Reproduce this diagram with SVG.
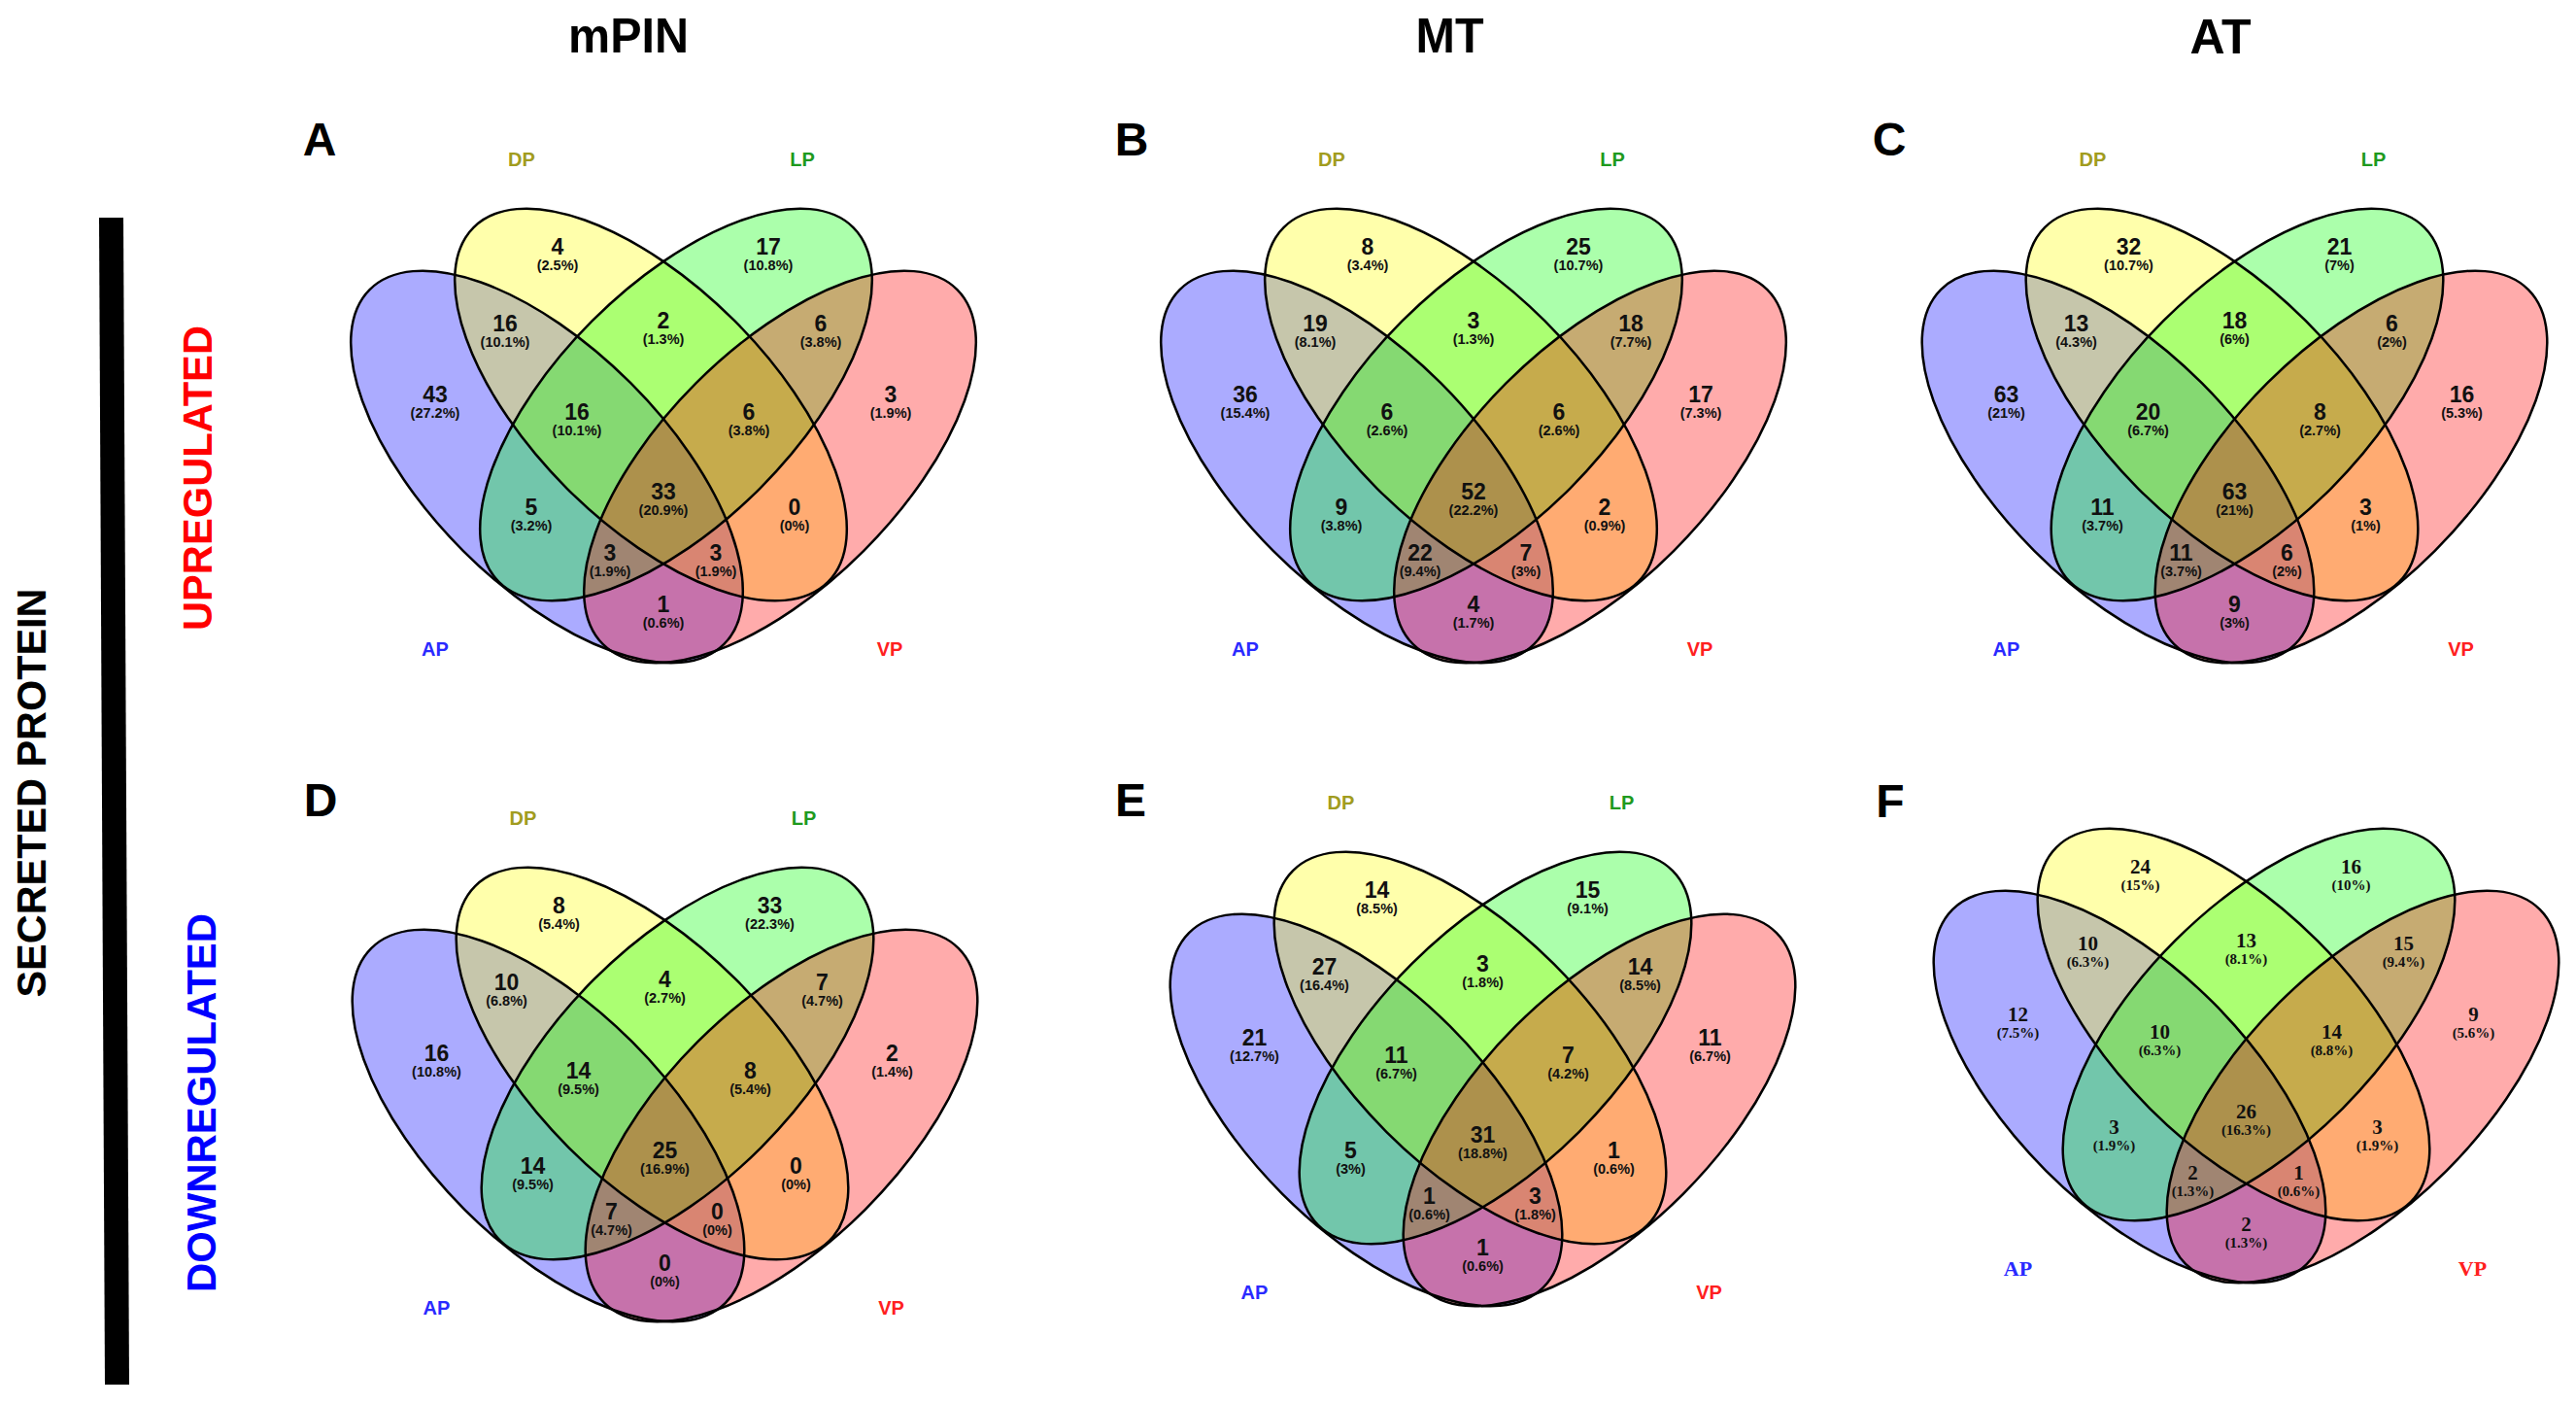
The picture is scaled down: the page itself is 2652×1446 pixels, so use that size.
<svg xmlns="http://www.w3.org/2000/svg" xmlns:xlink="http://www.w3.org/1999/xlink" width="2652" height="1446" viewBox="0 0 2652 1446">
<style>
.fa{fill:#0000ff;fill-opacity:.33}
.fd{fill:#ffff00;fill-opacity:.33}
.fl{fill:#00ff00;fill-opacity:.33}
.fv{fill:#ff0000;fill-opacity:.33}
.ol{fill:none;stroke:#000;stroke-width:2.5}
text{font-family:"Liberation Sans",Arial,sans-serif;font-weight:bold}
.n{font-size:23px;text-anchor:middle;fill:#111}
.p{font-size:14.5px}
.s .n{font-family:"Liberation Serif","Times New Roman",serif;font-size:21px}
.s .p{font-size:15px}
.c{font-size:20px;text-anchor:middle}
.s .c{font-family:"Liberation Serif","Times New Roman",serif;font-size:22px}
.dp{fill:#a19c1e}.lp{fill:#1e9a1e}.ap{fill:#2a2aff}.vp{fill:#ff2020}
.t{font-size:50px;text-anchor:middle;fill:#000}
.L{font-size:48px;text-anchor:middle;fill:#000}
.side{font-size:42px;text-anchor:middle}
</style>
<defs>
<ellipse id="eAP" cx="-120" cy="480.5" rx="258" ry="122" transform="rotate(45 -120 480.5)"/>
<ellipse id="eDP" cx="-13" cy="416.5" rx="258" ry="122" transform="rotate(45 -13 416.5)"/>
<ellipse id="eLP" cx="13" cy="416.5" rx="258" ry="122" transform="rotate(-45 13 416.5)"/>
<ellipse id="eVP" cx="120" cy="480.5" rx="258" ry="122" transform="rotate(-45 120 480.5)"/>
<g id="venn">
<use href="#eAP" class="fa"/><use href="#eDP" class="fd"/><use href="#eLP" class="fl"/><use href="#eVP" class="fv"/>
<use href="#eAP" class="ol"/><use href="#eDP" class="ol"/><use href="#eLP" class="ol"/><use href="#eVP" class="ol"/>
</g>
</defs>
<rect width="2652" height="1446" fill="#fff"/>

<g id="titles">
<text class="t" x="647" y="53.5" textLength="124" lengthAdjust="spacingAndGlyphs">mPIN</text>
<text class="t" x="1492.5" y="53.5" textLength="70" lengthAdjust="spacingAndGlyphs">MT</text>
<text class="t" x="2286" y="55" textLength="63" lengthAdjust="spacingAndGlyphs">AT</text>
</g>

<g id="side">
<polygon points="102,224 127,224 133,1425 108,1425" fill="#000"/>
<text class="side" transform="translate(47,816) rotate(-90)" textLength="421" lengthAdjust="spacingAndGlyphs">SECRETED PROTEIN</text>
<text class="side" transform="translate(218,492) rotate(-90)" fill="#ff0000" textLength="314" lengthAdjust="spacingAndGlyphs">UPREGULATED</text>
<text class="side" transform="translate(222,1135) rotate(-90)" fill="#0000ff" textLength="390" lengthAdjust="spacingAndGlyphs">DOWNREGULATED</text>
</g>

<g id="letters">
<text class="L" x="329" y="160">A</text>
<text class="L" x="1165" y="160">B</text>
<text class="L" x="1945" y="160">C</text>
<text class="L" x="330" y="840">D</text>
<text class="L" x="1164" y="840">E</text>
<text class="L" x="1946" y="841">F</text>
</g>

<g id="panel-A" transform="translate(683,0)">
<use href="#venn"/>
<text class="c dp" x="-146" y="171">DP</text><text class="c lp" x="143" y="171">LP</text>
<text class="c ap" x="-235" y="675">AP</text><text class="c vp" x="233" y="675">VP</text>
<text class="n" x="-109" y="262">4<tspan class="p" x="-109" dy="15.5">(2.5%)</tspan></text>
<text class="n" x="108" y="262">17<tspan class="p" x="108" dy="15.5">(10.8%)</tspan></text>
<text class="n" x="-163" y="341">16<tspan class="p" x="-163" dy="15.5">(10.1%)</tspan></text>
<text class="n" x="0" y="338">2<tspan class="p" x="0" dy="15.5">(1.3%)</tspan></text>
<text class="n" x="162" y="341">6<tspan class="p" x="162" dy="15.5">(3.8%)</tspan></text>
<text class="n" x="-235" y="414">43<tspan class="p" x="-235" dy="15.5">(27.2%)</tspan></text>
<text class="n" x="-89" y="432">16<tspan class="p" x="-89" dy="15.5">(10.1%)</tspan></text>
<text class="n" x="88" y="432">6<tspan class="p" x="88" dy="15.5">(3.8%)</tspan></text>
<text class="n" x="234" y="414">3<tspan class="p" x="234" dy="15.5">(1.9%)</tspan></text>
<text class="n" x="-136" y="530">5<tspan class="p" x="-136" dy="15.5">(3.2%)</tspan></text>
<text class="n" x="0" y="514">33<tspan class="p" x="0" dy="15.5">(20.9%)</tspan></text>
<text class="n" x="135" y="530">0<tspan class="p" x="135" dy="15.5">(0%)</tspan></text>
<text class="n" x="-55" y="577">3<tspan class="p" x="-55" dy="15.5">(1.9%)</tspan></text>
<text class="n" x="54" y="577">3<tspan class="p" x="54" dy="15.5">(1.9%)</tspan></text>
<text class="n" x="0" y="630">1<tspan class="p" x="0" dy="15.5">(0.6%)</tspan></text>
</g>

<g id="panel-B" transform="translate(1517,0)">
<use href="#venn"/>
<text class="c dp" x="-146" y="171">DP</text><text class="c lp" x="143" y="171">LP</text>
<text class="c ap" x="-235" y="675">AP</text><text class="c vp" x="233" y="675">VP</text>
<text class="n" x="-109" y="262">8<tspan class="p" x="-109" dy="15.5">(3.4%)</tspan></text>
<text class="n" x="108" y="262">25<tspan class="p" x="108" dy="15.5">(10.7%)</tspan></text>
<text class="n" x="-163" y="341">19<tspan class="p" x="-163" dy="15.5">(8.1%)</tspan></text>
<text class="n" x="0" y="338">3<tspan class="p" x="0" dy="15.5">(1.3%)</tspan></text>
<text class="n" x="162" y="341">18<tspan class="p" x="162" dy="15.5">(7.7%)</tspan></text>
<text class="n" x="-235" y="414">36<tspan class="p" x="-235" dy="15.5">(15.4%)</tspan></text>
<text class="n" x="-89" y="432">6<tspan class="p" x="-89" dy="15.5">(2.6%)</tspan></text>
<text class="n" x="88" y="432">6<tspan class="p" x="88" dy="15.5">(2.6%)</tspan></text>
<text class="n" x="234" y="414">17<tspan class="p" x="234" dy="15.5">(7.3%)</tspan></text>
<text class="n" x="-136" y="530">9<tspan class="p" x="-136" dy="15.5">(3.8%)</tspan></text>
<text class="n" x="0" y="514">52<tspan class="p" x="0" dy="15.5">(22.2%)</tspan></text>
<text class="n" x="135" y="530">2<tspan class="p" x="135" dy="15.5">(0.9%)</tspan></text>
<text class="n" x="-55" y="577">22<tspan class="p" x="-55" dy="15.5">(9.4%)</tspan></text>
<text class="n" x="54" y="577">7<tspan class="p" x="54" dy="15.5">(3%)</tspan></text>
<text class="n" x="0" y="630">4<tspan class="p" x="0" dy="15.5">(1.7%)</tspan></text>
</g>

<g id="panel-C" transform="translate(2300.5,0)">
<use href="#venn"/>
<text class="c dp" x="-146" y="171">DP</text><text class="c lp" x="143" y="171">LP</text>
<text class="c ap" x="-235" y="675">AP</text><text class="c vp" x="233" y="675">VP</text>
<text class="n" x="-109" y="262">32<tspan class="p" x="-109" dy="15.5">(10.7%)</tspan></text>
<text class="n" x="108" y="262">21<tspan class="p" x="108" dy="15.5">(7%)</tspan></text>
<text class="n" x="-163" y="341">13<tspan class="p" x="-163" dy="15.5">(4.3%)</tspan></text>
<text class="n" x="0" y="338">18<tspan class="p" x="0" dy="15.5">(6%)</tspan></text>
<text class="n" x="162" y="341">6<tspan class="p" x="162" dy="15.5">(2%)</tspan></text>
<text class="n" x="-235" y="414">63<tspan class="p" x="-235" dy="15.5">(21%)</tspan></text>
<text class="n" x="-89" y="432">20<tspan class="p" x="-89" dy="15.5">(6.7%)</tspan></text>
<text class="n" x="88" y="432">8<tspan class="p" x="88" dy="15.5">(2.7%)</tspan></text>
<text class="n" x="234" y="414">16<tspan class="p" x="234" dy="15.5">(5.3%)</tspan></text>
<text class="n" x="-136" y="530">11<tspan class="p" x="-136" dy="15.5">(3.7%)</tspan></text>
<text class="n" x="0" y="514">63<tspan class="p" x="0" dy="15.5">(21%)</tspan></text>
<text class="n" x="135" y="530">3<tspan class="p" x="135" dy="15.5">(1%)</tspan></text>
<text class="n" x="-55" y="577">11<tspan class="p" x="-55" dy="15.5">(3.7%)</tspan></text>
<text class="n" x="54" y="577">6<tspan class="p" x="54" dy="15.5">(2%)</tspan></text>
<text class="n" x="0" y="630">9<tspan class="p" x="0" dy="15.5">(3%)</tspan></text>
</g>

<g id="panel-D" transform="translate(684.5,678)">
<use href="#venn"/>
<text class="c dp" x="-146" y="171">DP</text><text class="c lp" x="143" y="171">LP</text>
<text class="c ap" x="-235" y="675">AP</text><text class="c vp" x="233" y="675">VP</text>
<text class="n" x="-109" y="262">8<tspan class="p" x="-109" dy="15.5">(5.4%)</tspan></text>
<text class="n" x="108" y="262">33<tspan class="p" x="108" dy="15.5">(22.3%)</tspan></text>
<text class="n" x="-163" y="341">10<tspan class="p" x="-163" dy="15.5">(6.8%)</tspan></text>
<text class="n" x="0" y="338">4<tspan class="p" x="0" dy="15.5">(2.7%)</tspan></text>
<text class="n" x="162" y="341">7<tspan class="p" x="162" dy="15.5">(4.7%)</tspan></text>
<text class="n" x="-235" y="414">16<tspan class="p" x="-235" dy="15.5">(10.8%)</tspan></text>
<text class="n" x="-89" y="432">14<tspan class="p" x="-89" dy="15.5">(9.5%)</tspan></text>
<text class="n" x="88" y="432">8<tspan class="p" x="88" dy="15.5">(5.4%)</tspan></text>
<text class="n" x="234" y="414">2<tspan class="p" x="234" dy="15.5">(1.4%)</tspan></text>
<text class="n" x="-136" y="530">14<tspan class="p" x="-136" dy="15.5">(9.5%)</tspan></text>
<text class="n" x="0" y="514">25<tspan class="p" x="0" dy="15.5">(16.9%)</tspan></text>
<text class="n" x="135" y="530">0<tspan class="p" x="135" dy="15.5">(0%)</tspan></text>
<text class="n" x="-55" y="577">7<tspan class="p" x="-55" dy="15.5">(4.7%)</tspan></text>
<text class="n" x="54" y="577">0<tspan class="p" x="54" dy="15.5">(0%)</tspan></text>
<text class="n" x="0" y="630">0<tspan class="p" x="0" dy="15.5">(0%)</tspan></text>
</g>

<g id="panel-E" transform="translate(1526.5,662)">
<use href="#venn"/>
<text class="c dp" x="-146" y="171">DP</text><text class="c lp" x="143" y="171">LP</text>
<text class="c ap" x="-235" y="675">AP</text><text class="c vp" x="233" y="675">VP</text>
<text class="n" x="-109" y="262">14<tspan class="p" x="-109" dy="15.5">(8.5%)</tspan></text>
<text class="n" x="108" y="262">15<tspan class="p" x="108" dy="15.5">(9.1%)</tspan></text>
<text class="n" x="-163" y="341">27<tspan class="p" x="-163" dy="15.5">(16.4%)</tspan></text>
<text class="n" x="0" y="338">3<tspan class="p" x="0" dy="15.5">(1.8%)</tspan></text>
<text class="n" x="162" y="341">14<tspan class="p" x="162" dy="15.5">(8.5%)</tspan></text>
<text class="n" x="-235" y="414">21<tspan class="p" x="-235" dy="15.5">(12.7%)</tspan></text>
<text class="n" x="-89" y="432">11<tspan class="p" x="-89" dy="15.5">(6.7%)</tspan></text>
<text class="n" x="88" y="432">7<tspan class="p" x="88" dy="15.5">(4.2%)</tspan></text>
<text class="n" x="234" y="414">11<tspan class="p" x="234" dy="15.5">(6.7%)</tspan></text>
<text class="n" x="-136" y="530">5<tspan class="p" x="-136" dy="15.5">(3%)</tspan></text>
<text class="n" x="0" y="514">31<tspan class="p" x="0" dy="15.5">(18.8%)</tspan></text>
<text class="n" x="135" y="530">1<tspan class="p" x="135" dy="15.5">(0.6%)</tspan></text>
<text class="n" x="-55" y="577">1<tspan class="p" x="-55" dy="15.5">(0.6%)</tspan></text>
<text class="n" x="54" y="577">3<tspan class="p" x="54" dy="15.5">(1.8%)</tspan></text>
<text class="n" x="0" y="630">1<tspan class="p" x="0" dy="15.5">(0.6%)</tspan></text>
</g>

<g id="panel-F" class="s" transform="translate(2312.5,638)">
<use href="#venn"/>
<text class="c ap" x="-235" y="675">AP</text><text class="c vp" x="233" y="675">VP</text>
<text class="n" x="-109" y="261">24<tspan class="p" x="-109" dy="16.5">(15%)</tspan></text>
<text class="n" x="108" y="261">16<tspan class="p" x="108" dy="16.5">(10%)</tspan></text>
<text class="n" x="-163" y="340">10<tspan class="p" x="-163" dy="16.5">(6.3%)</tspan></text>
<text class="n" x="0" y="337">13<tspan class="p" x="0" dy="16.5">(8.1%)</tspan></text>
<text class="n" x="162" y="340">15<tspan class="p" x="162" dy="16.5">(9.4%)</tspan></text>
<text class="n" x="-235" y="413">12<tspan class="p" x="-235" dy="16.5">(7.5%)</tspan></text>
<text class="n" x="-89" y="431">10<tspan class="p" x="-89" dy="16.5">(6.3%)</tspan></text>
<text class="n" x="88" y="431">14<tspan class="p" x="88" dy="16.5">(8.8%)</tspan></text>
<text class="n" x="234" y="413">9<tspan class="p" x="234" dy="16.5">(5.6%)</tspan></text>
<text class="n" x="-136" y="529">3<tspan class="p" x="-136" dy="16.5">(1.9%)</tspan></text>
<text class="n" x="0" y="513">26<tspan class="p" x="0" dy="16.5">(16.3%)</tspan></text>
<text class="n" x="135" y="529">3<tspan class="p" x="135" dy="16.5">(1.9%)</tspan></text>
<text class="n" x="-55" y="576">2<tspan class="p" x="-55" dy="16.5">(1.3%)</tspan></text>
<text class="n" x="54" y="576">1<tspan class="p" x="54" dy="16.5">(0.6%)</tspan></text>
<text class="n" x="0" y="629">2<tspan class="p" x="0" dy="16.5">(1.3%)</tspan></text>
</g>
</svg>
